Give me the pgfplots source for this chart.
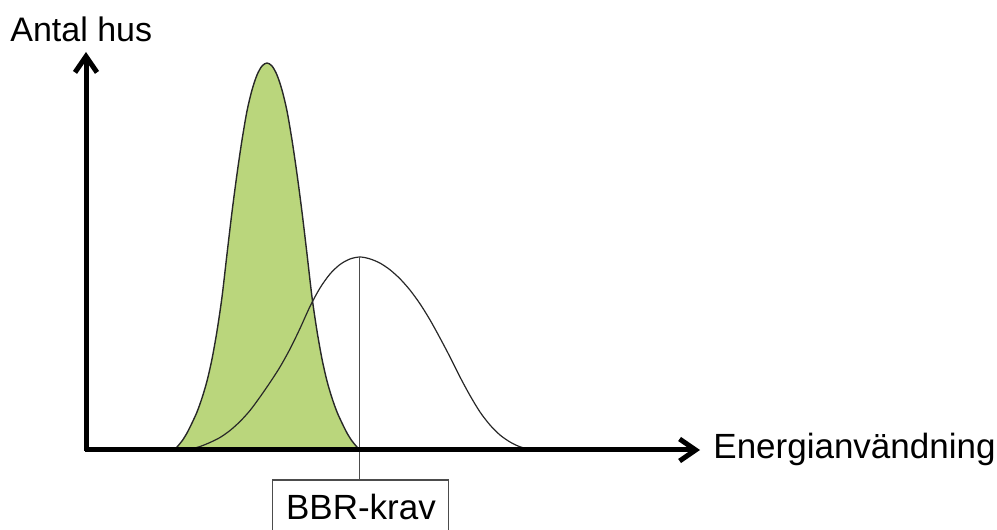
\documentclass[border=0pt]{standalone}
\usepackage{pgfplots}
\pgfplotsset{compat=1.18}
\usepackage{fontspec}
\setmainfont{Liberation Sans}
\usetikzlibrary{arrows.meta}
\definecolor{fillgreen}{RGB}{186,214,124}
\definecolor{curveline}{RGB}{40,40,40}
\begin{document}
\begin{tikzpicture}
\begin{axis}[
  scale only axis, width=498.5pt, height=265pt,
  xmin=0, xmax=997, ymin=-80, ymax=450,
  hide axis, clip=false,
]
% green (narrow) distribution
\addplot[fill=fillgreen, draw=curveline, line width=0.7pt, smooth] coordinates {
(174,0) (177,3) (182,9) (187,17) (192,27) (197,38) (202,52) (207,69) (212,91)
(217,119) (222,153) (227,196) (232,238) (237,276) (242,310) (247,339) (252,360)
(257,375) (262,384) (267,387) (272,384) (277,375) (282,360) (287,339) (292,310)
(297,276) (302,238) (307,196) (312,153) (317,119) (322,91) (327,69) (332,52)
(337,38) (342,27) (347,17) (352,9) (357,3) (360,0)
} \closedcycle;
% wide distribution (outline only)
\addplot[draw=curveline, line width=0.6pt, smooth] coordinates {
(185,0) (190,0.8) (200,3.5) (210,7.5) (220,12.5) (230,19.5) (240,28.5) (250,39.5) (260,53)
(270,67.5) (280,83) (290,101) (300,121.5) (310,143.5) (320,162) (330,176) (340,185.5)
(350,191) (360,193) (370,191.1) (380,186.9) (390,180.2) (400,171.2) (410,159.9)
(420,146.2) (430,130.1) (440,112) (450,93) (460,73) (470,54.5) (480,38) (490,25)
(500,15) (510,8) (520,3.2) (530,0.8) (537,0)
};
% BBR-krav vertical line
\addplot[draw=black!70, line width=0.7pt] coordinates {(359.5,193) (359.5,-30)};
% axes
\draw[line width=2.5pt, -{Straight Barb[length=8pt,width=11pt]}] (axis cs:86,-1.2) -- (axis cs:86,398);
\draw[line width=2.5pt, -{Straight Barb[length=8pt,width=11pt]}] (axis cs:84.8,0) -- (axis cs:700,0);
% labels
\node[anchor=base west, inner sep=0pt, font=\fontsize{17}{20}\selectfont] at (axis cs:10,408.5) {Antal hus};
\node[anchor=base west, inner sep=0pt, font=\fontsize{17.5}{20}\selectfont] at (axis cs:713,-9) {Energianvändning};
% BBR-krav box
\draw[draw=black!70, line width=0.7pt, fill=white] (axis cs:272.7,-100) rectangle (axis cs:448.3,-30);
\node[anchor=base, inner sep=0pt, font=\fontsize{17.5}{20}\selectfont] at (axis cs:361,-70) {BBR-krav};
\coordinate (bl) at (axis cs:0,-80);
\coordinate (tr) at (axis cs:997,450);
\end{axis}
\pgfresetboundingbox
\useasboundingbox (bl) rectangle (tr);
\end{tikzpicture}
\end{document}
